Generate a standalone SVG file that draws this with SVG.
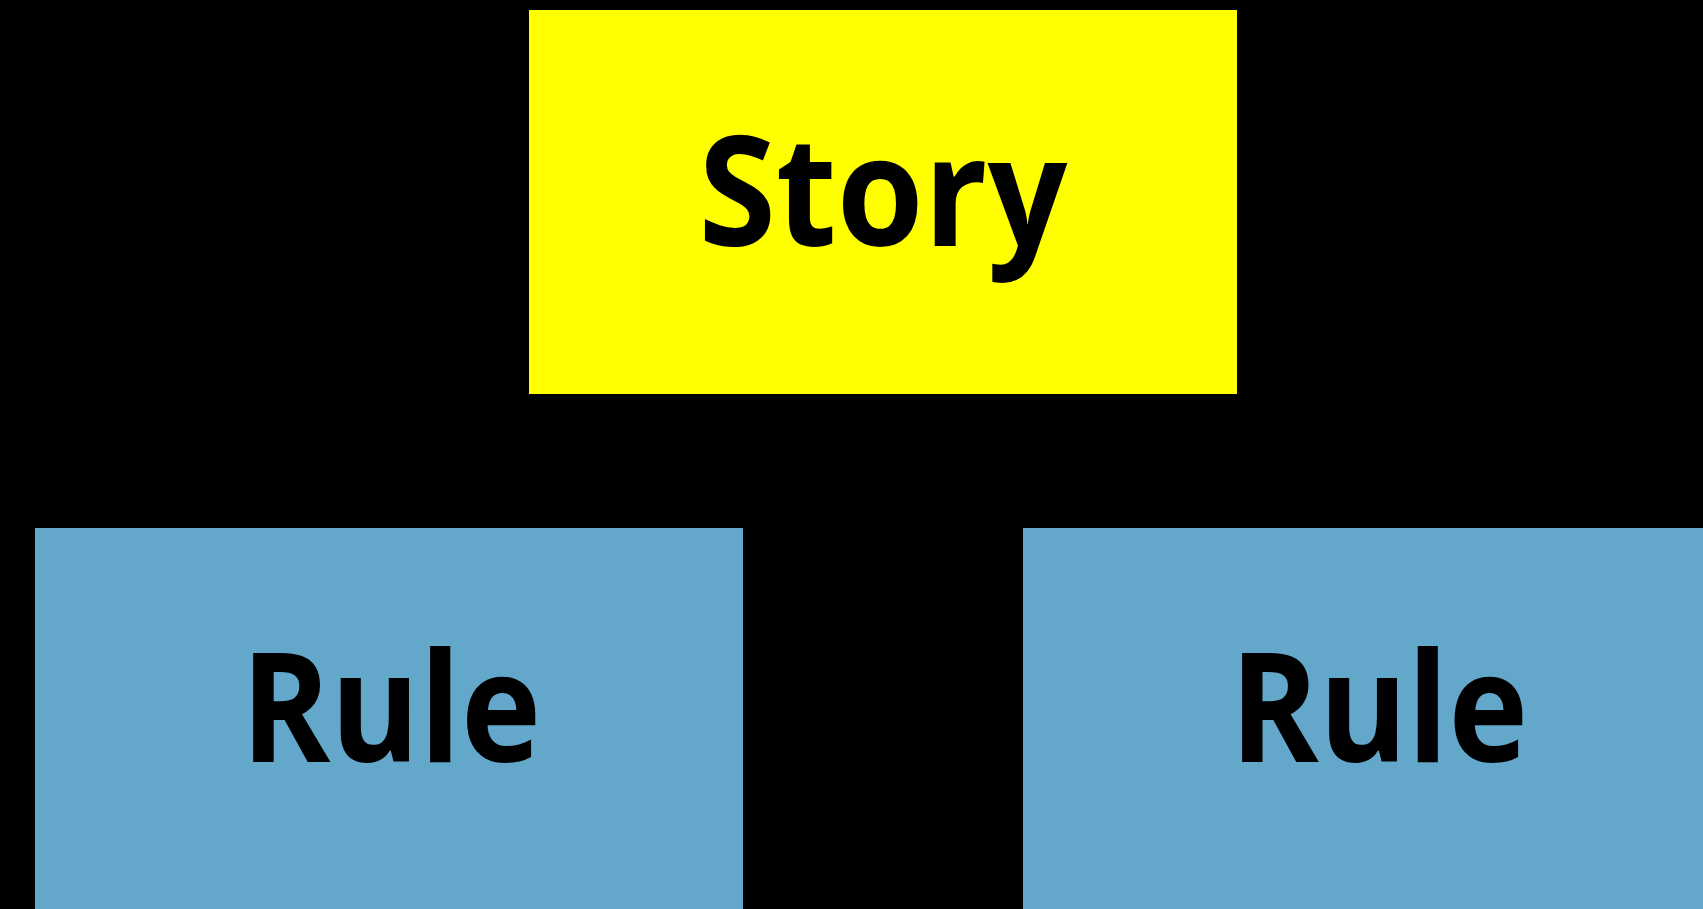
<svg xmlns="http://www.w3.org/2000/svg" width="1703" height="909" viewBox="0 0 1703 909">
<style>
.lbl{font-family:"Open Sans","Liberation Sans",Arial,sans-serif;font-weight:bold;font-size:152px;fill:#000;text-anchor:middle}
.rule{fill:#63A8CB}
</style>
<rect x="0" y="0" width="1703" height="909" fill="#000"/>
<g id="connectors"></g>
<g id="story">
<rect x="529" y="10" width="708" height="384" fill="#FFFF00"/>
<text class="lbl" x="883" y="246" textLength="369" lengthAdjust="spacingAndGlyphs">Story</text>
</g>
<g id="rule-left">
<rect class="rule" x="35" y="528" width="708" height="381"/>
<text class="lbl" x="391" y="762" textLength="300" lengthAdjust="spacingAndGlyphs">Rule</text>
</g>
<g id="rule-right">
<rect class="rule" x="1023" y="528" width="708" height="381"/>
<text class="lbl" x="1379" y="762" textLength="298" lengthAdjust="spacingAndGlyphs">Rule</text>
</g>
</svg>
